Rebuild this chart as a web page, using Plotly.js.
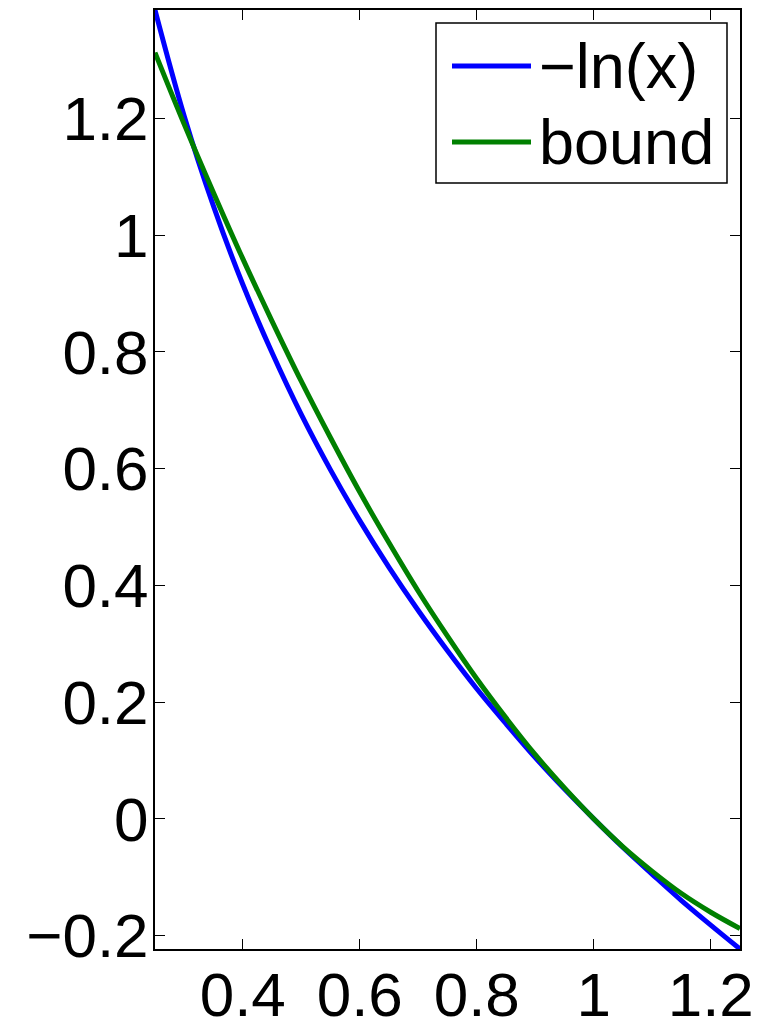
<!DOCTYPE html>
<html>
<head>
<meta charset="utf-8">
<script src="https://cdn.plot.ly/plotly-3.0.1.min.js"></script>
<style>html,body{margin:0;padding:0;background:#fff;}#chart{width:759px;height:1025px;}</style>
</head>
<body>
<div id="chart"></div>
<script>
// Values
var xValues = [0.25,0.30,0.35,0.40,0.45,0.50,0.55,0.60,0.65,0.70,0.75,0.80,0.85,0.90,0.95,1.00,1.05,1.10,1.15,1.20,1.25];
var negLnValues = [1.386,1.204,1.050,0.916,0.799,0.693,0.598,0.511,0.431,0.357,0.288,0.223,0.163,0.105,0.051,0.000,-0.049,-0.095,-0.140,-0.182,-0.223];
var boundValues = [1.313,1.190,1.073,0.960,0.853,0.750,0.653,0.560,0.473,0.390,0.313,0.240,0.173,0.110,0.053,0.000,-0.048,-0.090,-0.128,-0.160,-0.188];
var seriesNames = ["\u2212ln(x)", "bound"];
var xTickVals = [0.4,0.6,0.8,1.0,1.2];
var xTickText = ["0.4","0.6","0.8","1","1.2"];
var yTickVals = [-0.2,0,0.2,0.4,0.6,0.8,1.0,1.2];
var yTickText = ["\u22120.2","0","0.2","0.4","0.6","0.8","1","1.2"];

var colors = ["#0000ff", "#008000"];
var FONT = "Liberation Sans, Arial, Helvetica, sans-serif";
var FS = 62;

var traces = [
  {x: xValues, y: negLnValues, type: "scatter", mode: "lines", name: seriesNames[0],
   line: {color: colors[0], width: 5, shape: "spline", smoothing: 1}},
  {x: xValues, y: boundValues, type: "scatter", mode: "lines", name: seriesNames[1],
   line: {color: colors[1], width: 5, shape: "spline", smoothing: 1}}
];

// custom legend (paper coords); plot area: left 155, right 740, top 10, bottom 949
var W = 759, H = 1025, L = 155, R = 740, T = 10, B = 949;
function px(x){ return (x - L) / (R - L); }
function py(y){ return 1 - (y - T) / (B - T); }

var shapes = [
  {type: "rect", xref: "paper", yref: "paper", x0: px(436), x1: px(727), y0: py(183), y1: py(23),
   line: {color: "#000", width: 1.5}, fillcolor: "#fff", layer: "above"},
  {type: "line", xref: "paper", yref: "paper", x0: px(452), x1: px(531), y0: py(66), y1: py(66),
   line: {color: colors[0], width: 5}, layer: "above"},
  {type: "line", xref: "paper", yref: "paper", x0: px(452), x1: px(531), y0: py(142), y1: py(142),
   line: {color: colors[1], width: 5}, layer: "above"}
];
var annotations = [
  {xref: "paper", yref: "paper", x: px(537), y: py(66), xanchor: "left", yanchor: "middle",
   text: seriesNames[0], showarrow: false, font: {family: FONT, size: 63, color: "#000"}},
  {xref: "paper", yref: "paper", x: px(537), y: py(142), xanchor: "left", yanchor: "middle",
   text: seriesNames[1], showarrow: false, font: {family: FONT, size: 63, color: "#000"}}
];

var axisCommon = {
  showgrid: false, zeroline: false, showline: true, linecolor: "#000", linewidth: 2,
  mirror: "allticks", ticks: "inside", ticklen: 10, tickwidth: 1, tickcolor: "#000",
  tickfont: {family: FONT, size: FS, color: "#000"}, tickmode: "array"
};

var layout = {
  width: W, height: H,
  margin: {l: L, r: W - R, t: T, b: H - B},
  paper_bgcolor: "#fff", plot_bgcolor: "#fff",
  showlegend: false,
  xaxis: Object.assign({}, axisCommon, {range: [0.25, 1.25], tickvals: xTickVals, ticktext: xTickText, ticklabelstandoff: -9}),
  yaxis: Object.assign({}, axisCommon, {range: [-0.223, 1.386], tickvals: yTickVals, ticktext: yTickText, ticklabelstandoff: -8}),
  shapes: shapes,
  annotations: annotations
};

Plotly.newPlot("chart", traces, layout, {displayModeBar: false, staticPlot: true});
</script>
</body>
</html>
